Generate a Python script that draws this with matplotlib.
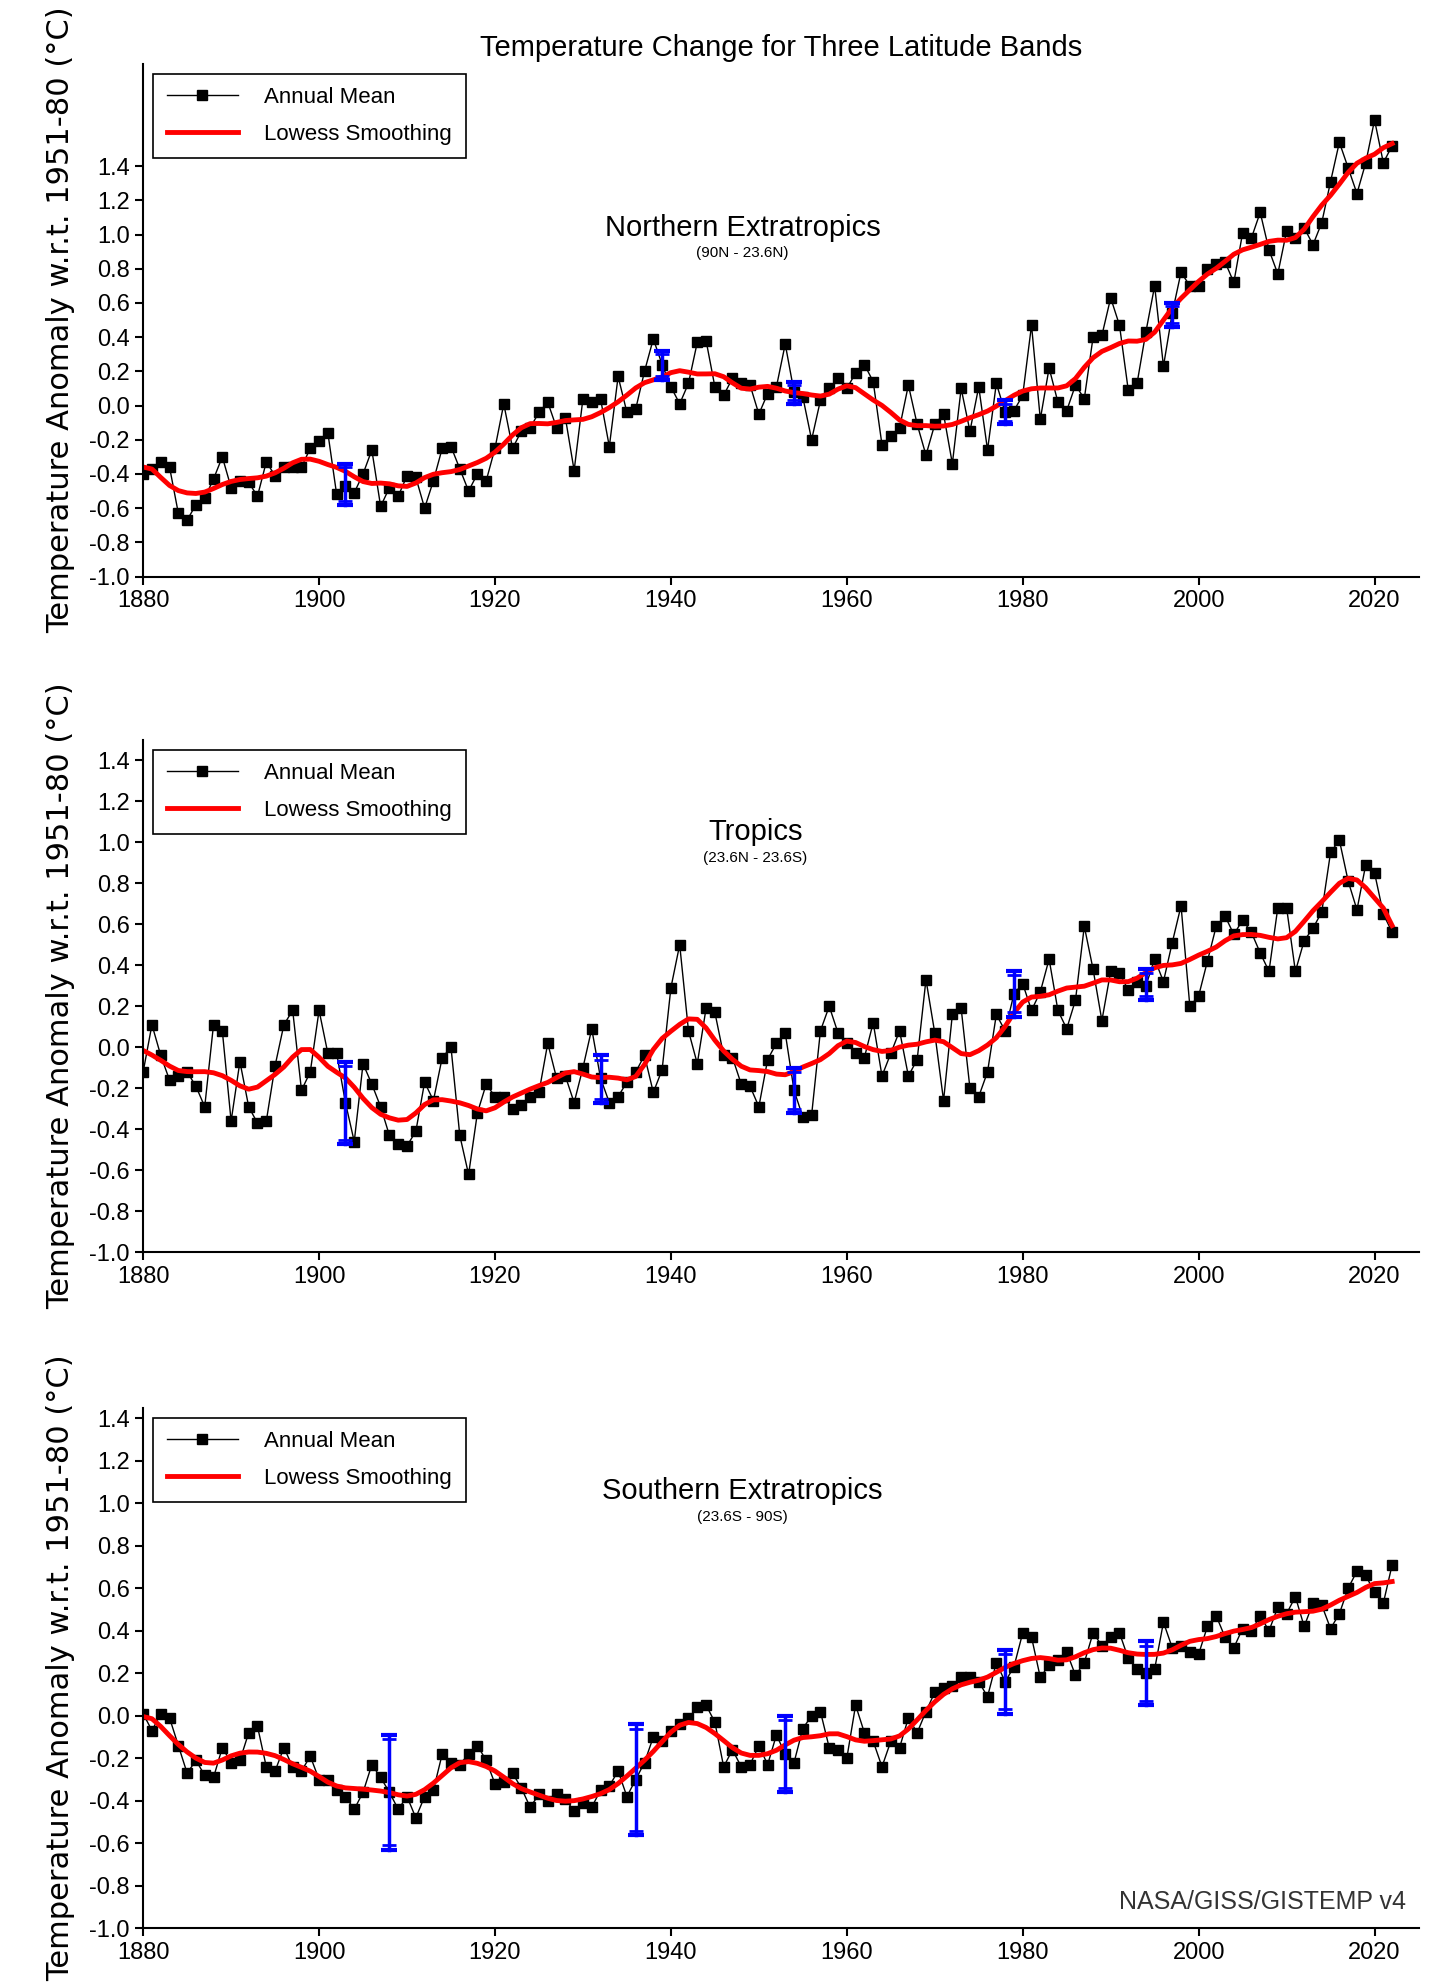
import numpy as np
import matplotlib.pyplot as plt

plt.rcParams['font.family'] = ['Liberation Sans', 'DejaVu Sans']

years = np.arange(1880, 2023)

north = [-0.40, -0.37, -0.33, -0.36, -0.63, -0.67, -0.58, -0.54, -0.43, -0.30,
         -0.48, -0.44, -0.45, -0.53, -0.33, -0.41, -0.36, -0.36, -0.36, -0.25,
         -0.21, -0.16, -0.52, -0.47, -0.51, -0.40, -0.26, -0.59, -0.48, -0.53,
         -0.41, -0.42, -0.60, -0.44, -0.25, -0.24, -0.37, -0.50, -0.40, -0.44,
         -0.25, 0.01, -0.25, -0.15, -0.13, -0.04, 0.02, -0.13, -0.07, -0.38,
         0.04, 0.02, 0.04, -0.24, 0.17, -0.04, -0.02, 0.20, 0.39, 0.24,
         0.11, 0.01, 0.13, 0.37, 0.38, 0.11, 0.06, 0.16, 0.13, 0.12,
         -0.05, 0.07, 0.11, 0.36, 0.08, 0.05, -0.20, 0.03, 0.10, 0.16,
         0.10, 0.19, 0.24, 0.14, -0.23, -0.18, -0.13, 0.12, -0.11, -0.29,
         -0.11, -0.05, -0.34, 0.10, -0.15, 0.11, -0.26, 0.13, -0.04, -0.03,
         0.06, 0.47, -0.08, 0.22, 0.02, -0.03, 0.12, 0.04, 0.40, 0.41,
         0.63, 0.47, 0.09, 0.13, 0.43, 0.70, 0.23, 0.54, 0.78, 0.70,
         0.70, 0.80, 0.83, 0.84, 0.72, 1.01, 0.98, 1.13, 0.91, 0.77,
         1.02, 0.98, 1.04, 0.94, 1.07, 1.31, 1.54, 1.39, 1.24, 1.42,
         1.67, 1.42, 1.52]

tropics = [-0.12, 0.11, -0.04, -0.16, -0.14, -0.12, -0.19, -0.29, 0.11, 0.08,
           -0.36, -0.07, -0.29, -0.37, -0.36, -0.09, 0.11, 0.18, -0.21, -0.12,
           0.18, -0.03, -0.03, -0.27, -0.46, -0.08, -0.18, -0.29, -0.43, -0.47,
           -0.48, -0.41, -0.17, -0.26, -0.05, 0.00, -0.43, -0.62, -0.32, -0.18,
           -0.24, -0.24, -0.30, -0.28, -0.24, -0.22, 0.02, -0.15, -0.14, -0.27,
           -0.10, 0.09, -0.15, -0.27, -0.24, -0.17, -0.12, -0.04, -0.22, -0.11,
           0.29, 0.50, 0.08, -0.08, 0.19, 0.17, -0.04, -0.05, -0.18, -0.19,
           -0.29, -0.06, 0.02, 0.07, -0.21, -0.34, -0.33, 0.08, 0.20, 0.07,
           0.02, -0.03, -0.05, 0.12, -0.14, -0.03, 0.08, -0.14, -0.06, 0.33,
           0.07, -0.26, 0.16, 0.19, -0.20, -0.24, -0.12, 0.16, 0.08, 0.26,
           0.31, 0.18, 0.27, 0.43, 0.18, 0.09, 0.23, 0.59, 0.38, 0.13,
           0.37, 0.36, 0.28, 0.32, 0.30, 0.43, 0.32, 0.51, 0.69, 0.20,
           0.25, 0.42, 0.59, 0.64, 0.55, 0.62, 0.56, 0.46, 0.37, 0.68,
           0.68, 0.37, 0.52, 0.58, 0.66, 0.95, 1.01, 0.81, 0.67, 0.89,
           0.85, 0.65, 0.56]

south = [0.01, -0.07, 0.01, -0.01, -0.14, -0.27, -0.21, -0.28, -0.29, -0.15,
         -0.22, -0.21, -0.08, -0.05, -0.24, -0.26, -0.15, -0.24, -0.26, -0.19,
         -0.30, -0.30, -0.35, -0.38, -0.44, -0.36, -0.23, -0.29, -0.36, -0.44,
         -0.38, -0.48, -0.38, -0.35, -0.18, -0.22, -0.23, -0.18, -0.14, -0.21,
         -0.32, -0.31, -0.27, -0.34, -0.43, -0.37, -0.40, -0.37, -0.39, -0.45,
         -0.41, -0.43, -0.35, -0.33, -0.26, -0.38, -0.30, -0.22, -0.10, -0.12,
         -0.07, -0.04, -0.01, 0.04, 0.05, -0.03, -0.24, -0.16, -0.24, -0.23,
         -0.14, -0.23, -0.09, -0.18, -0.22, -0.06, 0.00, 0.02, -0.15, -0.16,
         -0.20, 0.05, -0.08, -0.12, -0.24, -0.12, -0.15, -0.01, -0.08, 0.02,
         0.11, 0.13, 0.14, 0.18, 0.18, 0.16, 0.09, 0.25, 0.16, 0.23,
         0.39, 0.37, 0.18, 0.24, 0.26, 0.30, 0.19, 0.25, 0.39, 0.33,
         0.37, 0.39, 0.27, 0.22, 0.20, 0.22, 0.44, 0.32, 0.33, 0.30,
         0.29, 0.42, 0.47, 0.37, 0.32, 0.41, 0.40, 0.47, 0.40, 0.51,
         0.48, 0.56, 0.42, 0.53, 0.52, 0.41, 0.48, 0.60, 0.68, 0.66,
         0.58, 0.53, 0.71]

# uncertainty bars: year, low, high
north_err_years = [1903, 1939, 1954, 1978, 1997]
north_err_lo = [-0.58, 0.15, 0.01, -0.11, 0.46]
north_err_hi = [-0.34, 0.32, 0.14, 0.03, 0.60]
trop_err_years = [1903, 1932, 1954, 1979, 1994]
trop_err_lo = [-0.47, -0.27, -0.32, 0.15, 0.23]
trop_err_hi = [-0.07, -0.04, -0.10, 0.37, 0.38]
south_err_years = [1908, 1936, 1953, 1978, 1994]
south_err_lo = [-0.63, -0.56, -0.36, 0.01, 0.05]
south_err_hi = [-0.09, -0.04, 0.00, 0.31, 0.35]


def lowess(x, y, half=5.5):
    x = np.asarray(x, float)
    y = np.asarray(y, float)
    out = np.empty_like(y)
    for i, x0 in enumerate(x):
        d = np.abs(x - x0) / half
        w = np.where(d < 1, (1 - d ** 3) ** 3, 0)
        W = np.sum(w)
        xm = np.sum(w * x) / W
        ym = np.sum(w * y) / W
        b = np.sum(w * (x - xm) * (y - ym)) / np.sum(w * (x - xm) ** 2)
        out[i] = ym + b * (x0 - xm)
    return out


panels = [
    (north, north_err_years, north_err_lo, north_err_hi, "Northern Extratropics", "(90N - 23.6N)",
     [0.099, 0.710, 0.882, 0.258], 2.0, (0.47, 0.68)),
    (tropics, trop_err_years, trop_err_lo, trop_err_hi, "Tropics", "(23.6N - 23.6S)",
     [0.099, 0.370, 0.882, 0.258], 1.5, (0.48, 0.82)),
    (south, south_err_years, south_err_lo, south_err_hi, "Southern Extratropics", "(23.6S - 90S)",
     [0.099, 0.030, 0.882, 0.262], 1.45, (0.47, 0.84)),
]

fig = plt.figure(figsize=(14.46, 19.88), dpi=100)

for vals, ey, elo, ehi, name, sub, rect, ytop, tpos in panels:
    ax = fig.add_axes(rect)
    ax.plot(years, vals, '-', color='black', lw=1, marker='s', ms=7, label='Annual Mean')
    ax.plot(years, lowess(years, vals), color='red', lw=3.5, label='Lowess Smoothing')
    for yr, lo, hi in zip(ey, elo, ehi):
        ax.plot([yr, yr], [lo, hi], color='blue', lw=2.5)
        ax.plot([yr, yr], [lo, hi], ls='none', marker='_', color='blue', ms=12, mew=3)
        ax.plot([yr, yr], [lo + 0.02, hi - 0.02], ls='none', marker='_', color='blue', ms=10, mew=2)
    ax.set_xlim(1880, 2025)
    ax.set_ylim(-1.0, ytop)
    ax.set_xticks(range(1880, 2021, 20))
    ax.set_yticks(np.round(np.arange(-1.0, 1.41, 0.2), 1))
    ax.yaxis.set_major_formatter(plt.FuncFormatter(lambda v, p: f"{v + 0.0:.1f}".replace("-0.0", "0.0")))
    ax.tick_params(labelsize=17, direction='out', length=6, width=1.5)
    for s in ('top', 'right'):
        ax.spines[s].set_visible(False)
    for s in ('left', 'bottom'):
        ax.spines[s].set_linewidth(1.5)
    ax.set_ylabel("Temperature Anomaly w.r.t. 1951-80 (°C)", fontsize=22, labelpad=10,
                  family=['DejaVu Sans'])
    ax.text(tpos[0], tpos[1], name, transform=ax.transAxes, ha='center', va='center', fontsize=21)
    ax.text(tpos[0], tpos[1] - 0.05, sub, transform=ax.transAxes, ha='center', va='center', fontsize=11)
    leg = ax.legend(loc='upper left', bbox_to_anchor=(0.008, 0.98), fontsize=16, fancybox=False,
                    edgecolor='black', framealpha=1, handlelength=3.2, handletextpad=1.2,
                    borderpad=0.6, labelspacing=0.7, borderaxespad=0)
    leg.get_frame().set_linewidth(1.2)

fig.text(0.54, 0.976, "Temperature Change for Three Latitude Bands", ha='center', va='center', fontsize=21)
ax.text(0.99, 0.05, "NASA/GISS/GISTEMP v4", transform=ax.transAxes, ha='right', va='center',
        fontsize=18, color='#333333')

fig.savefig("out.png", dpi=100)
